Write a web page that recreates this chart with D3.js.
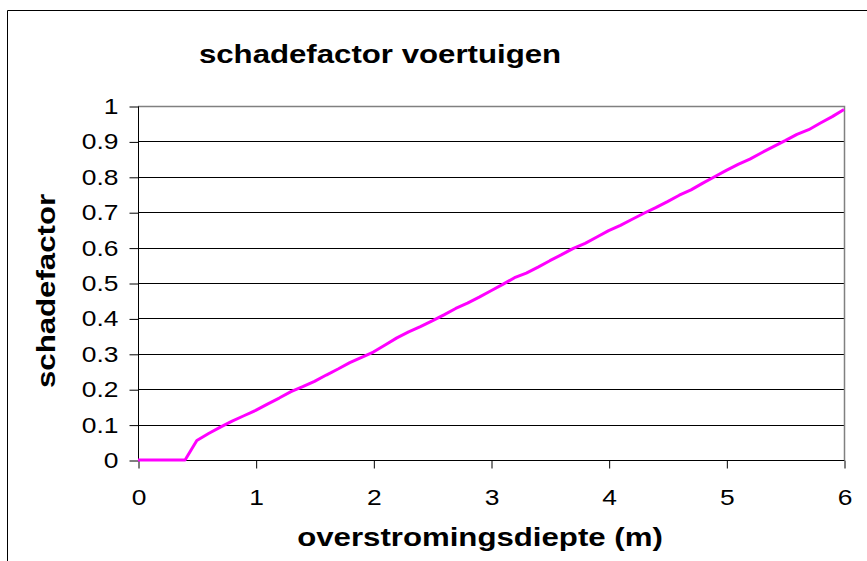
<!DOCTYPE html>
<html>
<head>
<meta charset="utf-8">
<script src="https://cdn.jsdelivr.net/npm/d3@7"></script>
<style>
  html, body { margin: 0; padding: 0; background: #fff; }
  svg { display: block; font-family: "Liberation Sans", Arial, sans-serif; }
</style>
</head>
<body>
<svg id="chart" width="867" height="561"></svg>
<script>
// Flood depth (m) against damage factor for vehicles
const depth = [0, 0.1, 0.2, 0.3, 0.4, 0.5, 0.6, 0.7, 0.8, 0.9,
  1.0, 1.1, 1.2, 1.3, 1.4, 1.5, 1.6, 1.7, 1.8, 1.9,
  2.0, 2.1, 2.2, 2.3, 2.4, 2.5, 2.6, 2.7, 2.8, 2.9,
  3.0, 3.1, 3.2, 3.3, 3.4, 3.5, 3.6, 3.7, 3.8, 3.9,
  4.0, 4.1, 4.2, 4.3, 4.4, 4.5, 4.6, 4.7, 4.8, 4.9,
  5.0, 5.1, 5.2, 5.3, 5.4, 5.5, 5.6, 5.7, 5.8, 5.9, 6.0];
const damage = [0, 0, 0, 0, 0, 0.055, 0.075, 0.093, 0.11, 0.125,
  0.14, 0.158, 0.175, 0.193, 0.207, 0.222, 0.24, 0.257, 0.275, 0.29,
  0.305, 0.325, 0.345, 0.362, 0.377, 0.393, 0.41, 0.428, 0.443, 0.46,
  0.478, 0.496, 0.515, 0.528, 0.545, 0.563, 0.58, 0.598, 0.612, 0.63,
  0.648, 0.663, 0.68, 0.697, 0.713, 0.73, 0.748, 0.763, 0.782, 0.8,
  0.818, 0.835, 0.85, 0.868, 0.885, 0.902, 0.92, 0.933, 0.952, 0.97, 0.99];
const xTicks = [0, 1, 2, 3, 4, 5, 6];
const yTicks = [0, 0.1, 0.2, 0.3, 0.4, 0.5, 0.6, 0.7, 0.8, 0.9, 1];

const titleText = "schadefactor voertuigen";
const xTitle = "overstromingsdiepte (m)";
const yTitle = "schadefactor";

const svg = d3.select("#chart");
const W = 867, H = 561;
const plot = { left: 138, right: 844, top: 106, bottom: 460 };
const WIDEN = 1.2; // glyphs are drawn a little wider than the regular face

const x = d3.scaleLinear().domain([0, 6]).range([plot.left, plot.right]);
const y = d3.scaleLinear().domain([0, 1]).range([plot.bottom, plot.top]);

// Widen a text element horizontally about its own x anchor
function widen(sel) {
  sel.each(function () {
    const t = d3.select(this);
    const ax = +t.attr("x") || 0;
    t.attr("transform", `translate(${ax},0) scale(${WIDEN},1) translate(${-ax},0)`);
  });
}

// Outer chart frame
svg.append("path")
  .attr("d", `M7.5,${H} V10.5 H${W}`)
  .attr("fill", "none")
  .attr("stroke", "#000")
  .attr("stroke-width", 1);

// Horizontal gridlines
svg.append("g")
  .selectAll("line")
  .data(yTicks.filter(d => d > 0 && d < 1))
  .join("line")
  .attr("x1", plot.left).attr("x2", plot.right)
  .attr("y1", d => Math.round(y(d)) + 0.5).attr("y2", d => Math.round(y(d)) + 0.5)
  .attr("stroke", "#000")
  .attr("stroke-width", 1);

// Plot area border on the top and right
svg.append("path")
  .attr("d", `M${plot.left},${Math.round(y(1)) + 0.5} H${plot.right + 0.5} V${plot.bottom}`)
  .attr("fill", "none")
  .attr("stroke", "#808080")
  .attr("stroke-width", 1.5);

// Y axis
const yAxis = d3.axisLeft(y)
  .tickValues(yTicks)
  .tickSize(9)
  .tickPadding(11)
  .tickFormat(d => d3.format("")(+d.toFixed(1)));
const gy = svg.append("g")
  .attr("transform", `translate(${plot.left + 0.5},0.5)`)
  .call(yAxis);
gy.select(".domain").attr("stroke", "#000").attr("d", `M0,${y(1)}V${y(0)}`);
gy.selectAll(".tick line").attr("stroke", "#000");
gy.selectAll(".tick text")
  .attr("fill", "#000")
  .style("font-size", "22px")
  .style("font-family", "'Liberation Sans', Arial, sans-serif")
  .call(widen);

// X axis
const xAxis = d3.axisBottom(x)
  .tickValues(xTicks)
  .tickSize(8)
  .tickPadding(21)
  .tickFormat(d3.format("d"));
const gx = svg.append("g")
  .attr("transform", `translate(0.5,${Math.round(plot.bottom) + 0.5})`)
  .call(xAxis);
gx.select(".domain").attr("stroke", "#000").attr("d", `M${x(0)},0H${x(6)}`);
gx.selectAll(".tick line").attr("stroke", "#000");
gx.selectAll(".tick text")
  .attr("fill", "#000")
  .style("font-size", "22px")
  .style("font-family", "'Liberation Sans', Arial, sans-serif")
  .call(widen);

// Damage curve
const line = d3.line()
  .x((d, i) => x(depth[i]))
  .y(d => y(d));
svg.append("path")
  .datum(damage)
  .attr("d", line)
  .attr("fill", "none")
  .attr("stroke", "#FF00FF")
  .attr("stroke-width", 3)
  .attr("stroke-linejoin", "round");

// Titles
svg.append("text")
  .attr("x", 380).attr("y", 63)
  .attr("text-anchor", "middle")
  .style("font-size", "26px")
  .style("font-weight", "bold")
  .text(titleText)
  .call(widen);

svg.append("text")
  .attr("x", 480).attr("y", 546)
  .attr("text-anchor", "middle")
  .style("font-size", "26px")
  .style("font-weight", "bold")
  .text(xTitle)
  .call(widen);

svg.append("g")
  .attr("transform", `translate(55,291) rotate(-90)`)
  .append("text")
  .attr("x", 0).attr("y", 0)
  .attr("text-anchor", "middle")
  .style("font-size", "26px")
  .style("font-weight", "bold")
  .text(yTitle)
  .call(widen);
</script>
</body>
</html>
